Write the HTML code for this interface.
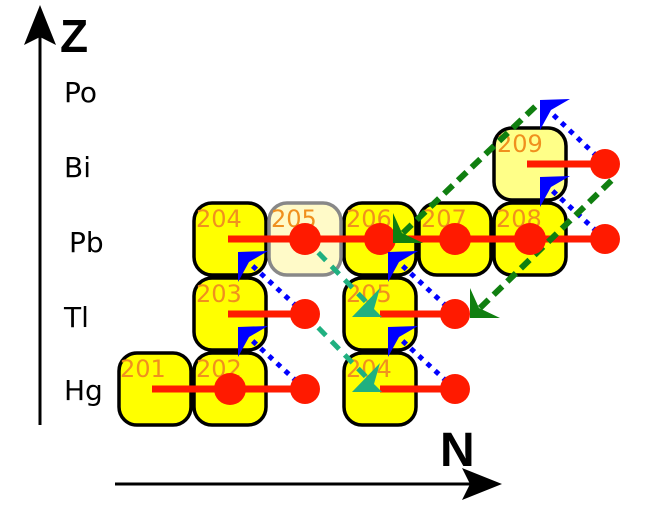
<!DOCTYPE html>
<html><head><meta charset="utf-8"><style>html,body{margin:0;padding:0;background:#fff}svg{display:block}</style></head>
<body>
<svg width="663" height="512" viewBox="0 0 663 512" xmlns="http://www.w3.org/2000/svg" font-family="DejaVu Sans, Liberation Sans, sans-serif">
<!-- axes -->
<line x1="40" y1="425" x2="40" y2="30" stroke="#000" stroke-width="3"/>
<polygon points="40,5 56,45 40,37 24,45" fill="#000"/>
<text x="60" y="52" font-size="46" font-weight="bold" font-family="Liberation Sans, sans-serif">Z</text>
<line x1="115" y1="484" x2="480" y2="484" stroke="#000" stroke-width="3"/>
<polygon points="502,484 462,468 470,484 462,500" fill="#000"/>
<text x="440" y="466" font-size="48" font-weight="bold" font-family="Liberation Sans, sans-serif">N</text>
<g font-size="28" fill="#000">
<text x="64" y="102">Po</text>
<text x="64" y="177">Bi</text>
<text x="69" y="252">Pb</text>
<text x="64" y="327">Tl</text>
<text x="64" y="400">Hg</text>
</g>
<!-- boxes -->
<g stroke="#000" stroke-width="3.5" fill="#ffff00">
<rect x="119" y="353" width="72" height="72" rx="18"/>
<rect x="194" y="353" width="72" height="72" rx="18"/>
<rect x="194" y="278" width="72" height="72" rx="18"/>
<rect x="194" y="203" width="72" height="72" rx="18"/>
<rect x="344" y="203" width="72" height="72" rx="18"/>
<rect x="419" y="203" width="72" height="72" rx="18"/>
<rect x="494" y="203" width="72" height="72" rx="18"/>
<rect x="344" y="278" width="72" height="72" rx="18"/>
<rect x="344" y="353" width="72" height="72" rx="18"/>
<rect x="494" y="128" width="72" height="72" rx="18" fill="#ffff88"/>
<rect x="269" y="203" width="72" height="72" rx="18" fill="#fffac8" stroke="#888"/>
</g>
<!-- numbers -->
<g font-size="24" fill="#f0901e">
<text x="120" y="377">201</text>
<text x="196" y="377">202</text>
<text x="196" y="302">203</text>
<text x="196" y="227">204</text>
<text x="271" y="227">205</text>
<text x="346" y="227">206</text>
<text x="421" y="227">207</text>
<text x="496" y="227">208</text>
<text x="497" y="152">209</text>
<text x="346" y="302">205</text>
<text x="346" y="377">204</text>
</g>
<!-- red lines -->
<g stroke="#ff1a00" stroke-width="7">
<line x1="152" y1="389" x2="305" y2="389"/>
<line x1="228" y1="314" x2="305" y2="314"/>
<line x1="228" y1="239" x2="605" y2="239"/>
<line x1="380" y1="314" x2="455" y2="314"/>
<line x1="380" y1="389" x2="455" y2="389"/>
<line x1="527" y1="164" x2="605" y2="164"/>
</g>
<!-- blue dotted -->
<g stroke="#0000ff" stroke-width="5" stroke-dasharray="5,6">
<line x1="305" y1="389" x2="245" y2="334"/>
<line x1="305" y1="314" x2="245" y2="259"/>
<line x1="455" y1="389" x2="395" y2="334"/>
<line x1="455" y1="314" x2="395" y2="259"/>
<line x1="605" y1="239" x2="545" y2="184"/>
<line x1="605" y1="164" x2="545" y2="107"/>
</g>
<!-- teal dashed -->
<g stroke="#20b080" stroke-width="5" stroke-dasharray="11,8">
<line x1="305" y1="239" x2="372" y2="308"/>
<line x1="305" y1="314" x2="372" y2="383"/>
</g>
<!-- green dashed -->
<g stroke="#107f10" stroke-width="6" stroke-dasharray="12,7">
<line x1="403" y1="233" x2="540" y2="102"/>
<line x1="480" y1="308" x2="614" y2="178"/>
</g>
<!-- red circles -->
<g fill="#ff1a00">
<circle cx="230" cy="389" r="16"/>
<circle cx="305" cy="389" r="15"/>
<circle cx="305" cy="314" r="15"/>
<circle cx="305" cy="239" r="16"/>
<circle cx="380" cy="239" r="16"/>
<circle cx="455" cy="239" r="16"/>
<circle cx="530" cy="239" r="16"/>
<circle cx="605" cy="239" r="15"/>
<circle cx="605" cy="164" r="15"/>
<circle cx="455" cy="314" r="15"/>
<circle cx="455" cy="389" r="15"/>
</g>
<!-- blue arrowheads -->
<g fill="#0000ff">
<polygon points="238,252 268,251 249,262 238,282"/>
<polygon points="238,327 268,326 249,337 238,357"/>
<polygon points="388,252 418,251 399,262 388,282"/>
<polygon points="388,327 418,326 399,337 388,357"/>
<polygon points="540,177 570,176 551,187 540,207"/>
<polygon points="540,100 570,99 551,110 540,130"/>
</g>
<!-- teal arrowheads -->
<g fill="#20b080">
<polygon points="352,317 382,317 374,309 380,288"/>
<polygon points="352,392 382,392 374,384 380,363"/>
</g>
<!-- green arrowheads -->
<g fill="#107f10">
<polygon points="393,243 393,213 402,233 423,243"/>
<polygon points="470,318 470,288 479,308 500,318"/>
</g>
</svg>
</body></html>
